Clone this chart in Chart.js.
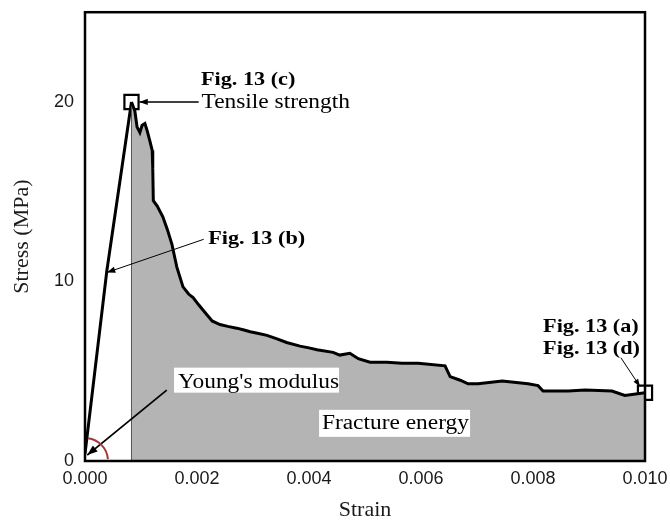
<!DOCTYPE html>
<html>
<head>
<meta charset="utf-8">
<script src="https://cdn.jsdelivr.net/npm/chart.js@4.4.1/dist/chart.umd.min.js"></script>
<style>
  html, body { margin: 0; padding: 0; background: #fff; }
</style>
</head>
<body>
<canvas id="stressChart" width="670" height="526"></canvas>
<script>
// elastic loading branch
const loadStrain = [0.0, 0.00039, 0.00083];
const loadStress = [0.4, 10.6, 20.0];

// post-peak softening branch
const softStrain = [
  0.00083, 0.00089, 0.00093, 0.00098, 0.00102, 0.00107, 0.00111, 0.00116, 0.0012, 0.00121,
  0.00122, 0.00129, 0.00139, 0.00147, 0.00155, 0.00164, 0.00175, 0.00185, 0.00193, 0.00203,
  0.00211, 0.00227, 0.00241, 0.00255, 0.00271, 0.00284, 0.00295, 0.0031, 0.00325, 0.00343,
  0.0036, 0.00384, 0.004, 0.00414, 0.00443, 0.00455, 0.00473, 0.00488, 0.00509, 0.00539,
  0.00566, 0.00595, 0.00643, 0.00652, 0.0067, 0.00684, 0.00702, 0.00745, 0.00791, 0.00809,
  0.00818, 0.00863, 0.00893, 0.00941, 0.00964, 0.01
];
const softStress = [
  20.0, 19.5, 18.6, 18.3, 18.7, 18.8, 18.4, 17.8, 17.3, 16.3,
  14.5, 14.2, 13.6, 12.9, 12.1, 10.8, 9.7, 9.3, 9.1, 8.7,
  8.4, 7.8, 7.6, 7.5, 7.4, 7.3, 7.2, 7.1, 7.0, 6.8,
  6.6, 6.4, 6.3, 6.2, 6.05, 5.9, 6.0, 5.7, 5.5, 5.5,
  5.45, 5.45, 5.3, 4.7, 4.5, 4.3, 4.3, 4.45, 4.3, 4.2,
  3.9, 3.9, 3.95, 3.9, 3.65, 3.8
];

// marked states: tensile strength and end of test
const markStrain = [0.00083, 0.01];
const markStress = [20.0, 3.8];

const xTicks = [0, 0.002, 0.004, 0.006, 0.008, 0.01];
const yTicks = [0, 10, 20];

const pts = (xs, ys) => xs.map((v, i) => ({ x: v, y: ys[i] }));

// serif labels are set a little wide
const STRETCH = 1.17;

function label(ctx, text, x, y, font) {
  ctx.save();
  ctx.font = font;
  ctx.translate(x, y);
  ctx.scale(STRETCH, 1);
  ctx.fillText(text, 0, 0);
  ctx.restore();
}

function arrow(ctx, x1, y1, x2, y2, w, head) {
  ctx.lineWidth = w;
  ctx.beginPath();
  ctx.moveTo(x1, y1);
  ctx.lineTo(x2, y2);
  ctx.stroke();
  const a = Math.atan2(y2 - y1, x2 - x1);
  ctx.beginPath();
  ctx.moveTo(x2, y2);
  ctx.lineTo(x2 - head * Math.cos(a - 0.35), y2 - head * Math.sin(a - 0.35));
  ctx.lineTo(x2 - head * Math.cos(a + 0.35), y2 - head * Math.sin(a + 0.35));
  ctx.closePath();
  ctx.fill();
}

const annotate = {
  id: "annotate",
  afterDatasetsDraw(chart) {
    const { ctx, chartArea: a, scales } = chart;
    const X = v => scales.x.getPixelForValue(v);
    const Y = v => scales.y.getPixelForValue(v);
    const bold = "bold 19px 'Liberation Serif'";
    const plain = "20px 'Liberation Serif'";
    ctx.save();

    // plot frame
    ctx.strokeStyle = "#000";
    ctx.lineWidth = 2.5;
    ctx.strokeRect(a.left, a.top, a.right - a.left, a.bottom - a.top);

    ctx.fillStyle = "#000";
    ctx.textBaseline = "alphabetic";
    ctx.textAlign = "left";

    // tensile strength
    arrow(ctx, X(0.00203), Y(20), X(0.00097), Y(20), 1.5, 9);
    label(ctx, "Fig. 13 (c)", X(0.00207), Y(20) - 17, bold);
    label(ctx, "Tensile strength", X(0.00208), Y(20) + 6, plain);

    // loading branch pointer
    arrow(ctx, X(0.00212), Y(12.35), X(0.00039), Y(10.5), 1, 9);
    label(ctx, "Fig. 13 (b)", X(0.0022), Y(12.1), bold);

    // white label boxes over the fill
    ctx.fillStyle = "#fff";
    ctx.fillRect(X(0.00159), Y(5.2), 165, 25);
    ctx.fillRect(X(0.00418), Y(2.85), 151, 27);
    ctx.fillStyle = "#000";
    label(ctx, "Young's modulus", X(0.00166), Y(4.05), plain);
    label(ctx, "Fracture energy", X(0.00423), Y(1.8), plain);

    // Young's modulus pointer and angle arc
    arrow(ctx, X(0.00146), Y(3.95), X(0.00004), Y(0.33), 1.8, 11);
    ctx.strokeStyle = "#a33a36";
    ctx.lineWidth = 2;
    ctx.beginPath();
    ctx.arc(X(0), Y(0), 23, -Math.PI * 0.46, -0.08);
    ctx.stroke();

    // end-of-test pointer
    ctx.strokeStyle = "#000";
    label(ctx, "Fig. 13 (a)", X(0.00818), Y(7.2), bold);
    label(ctx, "Fig. 13 (d)", X(0.00818), Y(5.95), bold);
    arrow(ctx, X(0.00957), Y(5.75), X(0.00991), Y(4.15), 1, 8);

    ctx.restore();
  }
};

const ctx = document.getElementById("stressChart").getContext("2d");
const chart = new Chart(ctx, {
  type: "scatter",
  data: {
    datasets: [
      {
        label: "Softening",
        data: pts(softStrain, softStress),
        showLine: true,
        borderColor: "#000",
        borderWidth: 3,
        backgroundColor: "#b4b4b4",
        fill: "origin",
        pointRadius: 0,
        tension: 0,
      },
      {
        label: "Peak strain",
        data: [{ x: softStrain[0], y: 0 }, { x: softStrain[0], y: softStress[0] }],
        showLine: true,
        borderColor: "#333",
        borderWidth: 1,
        pointRadius: 0,
      },
      {
        label: "Loading",
        data: pts(loadStrain, loadStress),
        showLine: true,
        borderColor: "#000",
        borderWidth: 3,
        pointRadius: 0,
        tension: 0,
      },
      {
        label: "Marks",
        data: pts(markStrain, markStress),
        pointStyle: "rect",
        pointRadius: 10,
        borderColor: "#000",
        borderWidth: 2.2,
        backgroundColor: "rgba(0,0,0,0)",
        clip: false,
      },
    ],
  },
  options: {
    responsive: false,
    animation: false,
    layout: { padding: { top: 12, right: 25, left: 0, bottom: 0 } },
    plugins: { legend: { display: false }, tooltip: { enabled: false } },
    scales: {
      x: {
        type: "linear",
        min: 0,
        max: 0.01,
        afterBuildTicks: s => { s.ticks = xTicks.map(v => ({ value: v })); },
        afterFit: s => { s.height = 65; s.paddingLeft = 0; s.paddingRight = 0; },
        grid: { display: false, drawTicks: false },
        border: { display: false },
        ticks: {
          padding: 7,
          color: "#1a1a1a",
          font: { family: "'Liberation Sans'", size: 18 },
          callback: v => v.toFixed(3),
        },
        title: {
          display: true,
          text: "Strain",
          color: "#1a1a1a",
          font: { family: "'Liberation Serif'", size: 22 },
          padding: { bottom: 3 },
        },
      },
      y: {
        min: 0,
        max: 25,
        afterBuildTicks: s => { s.ticks = yTicks.map(v => ({ value: v })); },
        afterFit: s => { s.width = 85; s.paddingTop = 0; s.paddingBottom = 0; },
        grid: { display: false, drawTicks: false },
        border: { display: false },
        ticks: {
          padding: 11,
          color: "#1a1a1a",
          font: { family: "'Liberation Sans'", size: 18 },
        },
        title: {
          display: true,
          text: "Stress (MPa)",
          color: "#1a1a1a",
          font: { family: "'Liberation Serif'", size: 22 },
          padding: { top: 9 },
        },
      },
    },
  },
  plugins: [annotate],
});
</script>
</body>
</html>
